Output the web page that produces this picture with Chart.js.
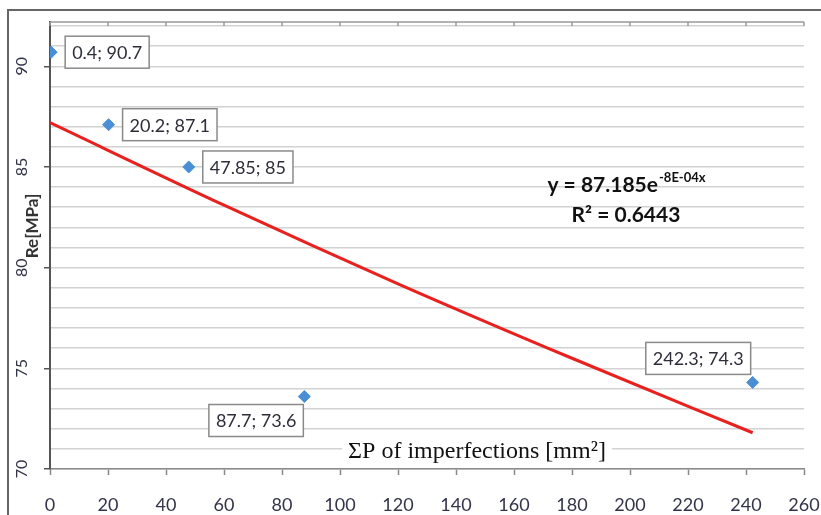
<!DOCTYPE html>
<html>
<head>
<meta charset="utf-8">
<script src="https://cdn.jsdelivr.net/npm/chart.js@4.4.1/dist/chart.umd.min.js"></script>
<style>
    html, body { margin: 0; padding: 0; background: #fff; }
    #wrap { width: 821px; height: 515px; position: relative; }
</style>
</head>
<body>
<div id="wrap"><canvas id="chart"></canvas></div>
<script>
// Measured points
const pointX = [0.4, 20.2, 47.85, 87.7, 242.3];
const pointY = [90.7, 87.1, 85, 73.6, 74.3];
const pointLabels = ['0.4; 90.7', '20.2; 87.1', '47.85; 85', '87.7; 73.6', '242.3; 74.3'];

// Exponential trendline
const trendX = [0, 60, 120, 180, 242.3];
const trendY = [87.2, 83.1, 79.2, 75.5, 71.8];

// Axes
const yTickValues = [70, 71, 72, 73, 74, 75, 76, 77, 78, 79, 80, 81, 82, 83, 84, 85, 86, 87, 88, 89, 90, 91, 92];
const yLabelStep = 5;
const xTickStep = 20;

const equationMain = 'y = 87.185e';
const equationExp = '-8E-04x';
const rSquared = 'R² = 0.6443';
const xTitle = 'ΣP of imperfections [mm²]';
const yTitle = 'Re[MPa]';

// where each data label box sits relative to its point
const labelPlacement = ['right', 'right', 'right', 'below-left', 'above-left'];

const decorPlugin = {
    id: 'decor',
    beforeDraw(chart) {
        const c = chart.ctx;
        c.save();
        c.fillStyle = '#fff';
        c.fillRect(0, 0, chart.width, chart.height);
        c.restore();
    },
    afterDatasetsDraw(chart) {
        const c = chart.ctx;
        const area = chart.chartArea;
        const xs = chart.scales.x;
        c.save();

        // top edge of the plot with small ticks hanging down
        c.strokeStyle = '#999';
        c.lineWidth = 1.5;
        c.beginPath();
        c.moveTo(area.left, area.top);
        c.lineTo(area.right, area.top);
        xs.ticks.forEach(t => {
            const px = xs.getPixelForValue(t.value);
            c.moveTo(px, area.top);
            c.lineTo(px, area.top + 4);
        });
        c.stroke();

        // x axis title sits inside the plot on a white patch
        c.font = '24px "Liberation Serif", "Times New Roman", serif';
        c.textAlign = 'center';
        c.textBaseline = 'alphabetic';
        const tw = c.measureText(xTitle).width;
        c.fillStyle = '#fff';
        c.fillRect(477 - tw / 2 - 6, 437, tw + 12, 27);
        c.fillStyle = '#111';
        c.fillText(xTitle, 477, 458);

        // data labels
        const meta = chart.getDatasetMeta(0);
        c.font = '18px Lato, sans-serif';
        meta.data.forEach((pt, i) => {
            const text = pointLabels[i];
            const w = c.measureText(text).width + 14;
            const h = 32;
            let bx, by;
            if (labelPlacement[i] === 'right') {
                bx = pt.x + 14; by = pt.y - h / 2;
            } else if (labelPlacement[i] === 'below-left') {
                bx = pt.x - 1 - w; by = pt.y + 8;
            } else {
                bx = pt.x - 2 - w; by = pt.y - 8 - h;
            }
            c.fillStyle = '#fff';
            c.fillRect(bx, by, w, h);
            c.strokeStyle = '#8a8a8a';
            c.lineWidth = 1.5;
            c.strokeRect(bx, by, w, h);
            c.fillStyle = '#2e2e3a';
            c.textAlign = 'center';
            c.textBaseline = 'middle';
            c.fillText(text, bx + w / 2, by + h / 2 + 1);
        });

        // trendline equation
        c.fillStyle = '#111';
        c.textAlign = 'left';
        c.textBaseline = 'alphabetic';
        c.font = 'bold 21px Lato, sans-serif';
        const mw = c.measureText(equationMain).width;
        c.font = 'bold 13px Lato, sans-serif';
        const ew = c.measureText(equationExp).width;
        const ex = 626 - (mw + ew) / 2;
        c.font = 'bold 21px Lato, sans-serif';
        c.fillText(equationMain, ex, 192);
        c.font = 'bold 13px Lato, sans-serif';
        c.fillText(equationExp, ex + mw + 1, 182);
        c.font = 'bold 21px Lato, sans-serif';
        c.textAlign = 'center';
        c.fillText(rSquared, 626, 222);

        // y axis title
        c.save();
        c.translate(33, 226);
        c.rotate(-Math.PI / 2);
        c.font = 'bold 17px Lato, sans-serif';
        c.fillStyle = '#333';
        c.textAlign = 'center';
        c.textBaseline = 'middle';
        c.fillText(yTitle, 0, 0);
        c.restore();

        // outer frame
        c.strokeStyle = '#666';
        c.lineWidth = 2;
        c.beginPath();
        c.moveTo(8, chart.height);
        c.lineTo(8, 10);
        c.lineTo(chart.width, 10);
        c.stroke();

        c.restore();
    }
};

new Chart(document.getElementById('chart'), {
    type: 'scatter',
    data: {
        datasets: [
            {
                label: 'Re',
                data: pointX.map((x, i) => ({ x: x, y: pointY[i] })),
                pointStyle: 'rectRot',
                pointRadius: 6,
                backgroundColor: '#4a8fd6',
                borderColor: '#4a8fd6',
                borderWidth: 1
            },
            {
                label: 'Trend',
                data: trendX.map((x, i) => ({ x: x, y: trendY[i] })),
                showLine: true,
                borderColor: '#e8201e',
                borderWidth: 3,
                pointRadius: 0,
                cubicInterpolationMode: 'monotone'
            }
        ]
    },
    options: {
        responsive: true,
        maintainAspectRatio: false,
        animation: false,
        layout: {
            padding: { top: 22, right: 17, left: 0, bottom: 0 }
        },
        plugins: {
            legend: { display: false },
            tooltip: { enabled: false }
        },
        scales: {
            x: {
                type: 'linear',
                min: 0,
                max: 260,
                afterFit: s => {
                    s.height = 46;
                    s.paddingLeft = 0;
                    s.paddingRight = 0;
                },
                ticks: {
                    stepSize: xTickStep,
                    autoSkip: false,
                    maxRotation: 0,
                    padding: 19,
                    color: '#33334a',
                    font: { family: 'Lato', size: 18 }
                },
                grid: {
                    drawOnChartArea: false,
                    tickLength: 6,
                    color: '#888',
                    tickWidth: 1.5
                },
                border: { color: '#8a8a8a', width: 1.5 }
            },
            y: {
                type: 'linear',
                min: 70,
                max: 92.2,
                afterBuildTicks: s => { s.ticks = yTickValues.map(v => ({ value: v })); },
                afterFit: s => {
                    s.width = 50;
                    s.paddingTop = 0;
                    s.paddingBottom = 0;
                },
                ticks: {
                    autoSkip: false,
                    minRotation: 90,
                    maxRotation: 90,
                    crossAlign: 'center',
                    padding: 13,
                    color: '#33334a',
                    font: { family: 'Lato', size: 16 },
                    callback: v => (v % yLabelStep === 0 ? v : '')
                },
                grid: {
                    color: '#d2d2d2',
                    lineWidth: 1.5,
                    tickLength: 6,
                    tickWidth: 1.5,
                    tickColor: ctx => (ctx.tick && ctx.tick.value % yLabelStep === 0 ? '#555' : 'rgba(0,0,0,0)')
                },
                border: { color: '#555', width: 2 }
            }
        }
    },
    plugins: [decorPlugin]
});
</script>
</body>
</html>
